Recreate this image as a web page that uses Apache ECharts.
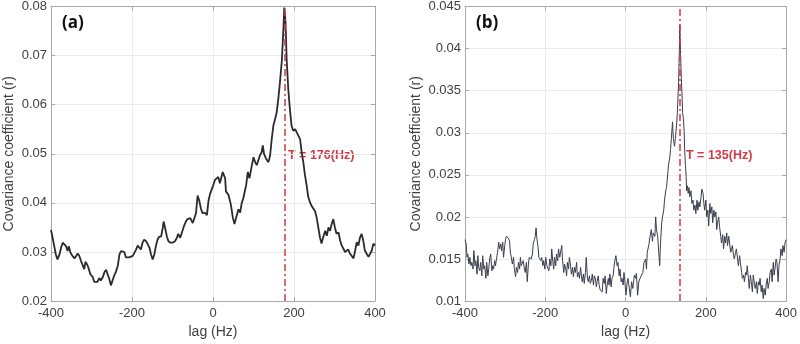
<!DOCTYPE html>
<html>
<head>
<meta charset="utf-8">
<script src="https://cdn.jsdelivr.net/npm/echarts@6/dist/echarts.min.js"></script>
<style>html,body{margin:0;padding:0;background:#fff}#c{width:800px;height:344px}</style>
</head>
<body>
<div id="c"></div>
<script>
// ---- Panel (a) ----
const lagA = [-400,-396,-392,-388,-384,-379,-375,-371,-367,-363,-359,-356,-352,-347,-342,-338,-334,-330,-326,-322,-318,-315,-311,-308,-303,-297,-293,-289,-285,-281,-277,-272,-268,-264,-260,-256,-252,-248,-244,-240,-235,-231,-227,-223,-219,-215,-211,-207,-203,-198,-194,-190,-186,-182,-178,-174,-170,-165,-161,-157,-153,-149,-145,-141,-137,-133,-128,-124,-122,-119,-114,-110,-105,-100,-94,-89,-86,-81,-77,-72,-67,-63,-56,-50,-46,-42,-38,-34,-30,-26,-20,-15,-11,-7,-1,5,13,17,24,30,32,38,44,49,53,57,63,67,71,75,82,86,90,96,100,104,108,112,116,120,123,126,131,137,141,145,149,153,157,161,165,170,174,176,179,182,186,190,194,198,203,207,211,215,219,223,227,231,235,240,244,248,252,256,260,264,268,272,277,281,285,289,293,297,301,305,310,314,318,322,326,330,334,338,342,347,351,355,359,363,367,371,375,379,384,388,392,396,400];
const covA = [0.0345,0.0329,0.0312,0.0295,0.0285,0.0295,0.0309,0.0319,0.0320,0.0312,0.0302,0.0312,0.0299,0.0292,0.0287,0.0292,0.0297,0.0292,0.0282,0.0279,0.0265,0.0280,0.0275,0.0269,0.0255,0.0249,0.0239,0.0237,0.0239,0.0247,0.0242,0.0249,0.0259,0.0264,0.0260,0.0245,0.0232,0.0242,0.0252,0.0259,0.0272,0.0295,0.0302,0.0305,0.0300,0.0289,0.0287,0.0289,0.0285,0.0292,0.0295,0.0305,0.0313,0.0312,0.0305,0.0319,0.0325,0.0322,0.0319,0.0309,0.0295,0.0285,0.0295,0.0312,0.0325,0.0331,0.0332,0.0349,0.0362,0.0352,0.0332,0.0322,0.0319,0.0319,0.0322,0.0329,0.0337,0.0329,0.0339,0.0352,0.0362,0.0367,0.0369,0.0359,0.0355,0.0379,0.0415,0.0405,0.0389,0.0379,0.0380,0.0375,0.0405,0.0419,0.0432,0.0447,0.0453,0.0440,0.0463,0.0450,0.0423,0.0417,0.0397,0.0370,0.0357,0.0370,0.0387,0.0380,0.0400,0.0410,0.0437,0.0463,0.0450,0.0477,0.0493,0.0483,0.0477,0.0487,0.0497,0.0503,0.0517,0.0500,0.0490,0.0483,0.0497,0.0530,0.0557,0.0570,0.0583,0.0610,0.0643,0.0690,0.0757,0.0798,0.0770,0.0690,0.0630,0.0590,0.0557,0.0547,0.0550,0.0543,0.0547,0.0530,0.0503,0.0483,0.0457,0.0437,0.0413,0.0400,0.0393,0.0390,0.0383,0.0370,0.0350,0.0330,0.0317,0.0330,0.0343,0.0333,0.0350,0.0343,0.0357,0.0367,0.0350,0.0337,0.0340,0.0323,0.0313,0.0307,0.0300,0.0300,0.0305,0.0297,0.0293,0.0287,0.0303,0.0320,0.0313,0.0330,0.0337,0.0323,0.0303,0.0297,0.0290,0.0293,0.0303,0.0317,0.0313];
const peakA = 176;
const labelA = 'T = 176(Hz)';

// ---- Panel (b) ----
const lagB = [-400,-397,-395,-393,-390,-388,-385,-383,-380,-378,-375,-373,-370,-368,-366,-363,-361,-358,-356,-353,-351,-348,-346,-343,-341,-338,-336,-333,-331,-329,-326,-324,-321,-319,-316,-314,-311,-309,-306,-304,-301,-299,-297,-294,-292,-289,-287,-284,-282,-279,-277,-274,-272,-269,-267,-264,-262,-260,-257,-255,-252,-250,-247,-245,-242,-240,-237,-235,-232,-230,-227,-225,-223,-221,-218,-216,-214,-211,-209,-206,-204,-201,-199,-196,-194,-191,-189,-186,-184,-181,-179,-177,-174,-172,-169,-167,-164,-162,-159,-157,-154,-152,-149,-147,-145,-142,-140,-137,-135,-132,-130,-127,-125,-122,-120,-117,-115,-112,-110,-108,-105,-103,-100,-98,-95,-93,-90,-88,-85,-83,-80,-78,-75,-73,-71,-68,-66,-63,-61,-58,-56,-53,-51,-48,-46,-43,-41,-39,-36,-34,-31,-29,-26,-24,-21,-19,-16,-14,-11,-9,-6,-4,-2,1,4,6,12,15,18,22,25,27,30,33,36,40,43,46,50,52,54,58,61,64,67,69,73,75,77,80,82,85,87,90,92,95,97,100,102,105,107,110,112,114,117,119,122,124,127,129,132,134,135,137,139,141,142,144,146,147,149,151,152,154,156,158,160,163,165,168,170,173,175,178,180,183,185,188,190,193,195,197,200,202,205,207,210,212,215,217,220,222,225,227,229,232,234,237,239,242,244,247,249,252,254,257,259,262,264,266,269,271,274,276,279,281,284,286,289,291,294,296,299,301,303,306,308,311,313,316,318,321,323,326,328,331,333,335,338,340,343,345,348,350,353,355,358,360,363,365,368,370,372,375,377,380,382,385,387,390,392,395,397,400];
const covB = [0.0173,0.0168,0.0152,0.0156,0.0144,0.0152,0.0142,0.0146,0.0138,0.0160,0.0142,0.0148,0.0132,0.0154,0.0140,0.0136,0.0146,0.0130,0.0154,0.0138,0.0142,0.0127,0.0146,0.0130,0.0138,0.0152,0.0156,0.0136,0.0142,0.0138,0.0148,0.0142,0.0152,0.0158,0.0170,0.0162,0.0168,0.0160,0.0170,0.0152,0.0166,0.0173,0.0177,0.0177,0.0175,0.0171,0.0158,0.0150,0.0144,0.0152,0.0138,0.0129,0.0140,0.0134,0.0146,0.0138,0.0152,0.0142,0.0142,0.0148,0.0138,0.0134,0.0146,0.0123,0.0144,0.0152,0.0154,0.0150,0.0156,0.0168,0.0173,0.0177,0.0187,0.0175,0.0164,0.0152,0.0154,0.0148,0.0152,0.0142,0.0148,0.0138,0.0152,0.0142,0.0144,0.0136,0.0150,0.0142,0.0162,0.0146,0.0138,0.0152,0.0142,0.0156,0.0148,0.0162,0.0152,0.0152,0.0166,0.0148,0.0134,0.0144,0.0138,0.0130,0.0146,0.0138,0.0152,0.0142,0.0132,0.0140,0.0129,0.0140,0.0134,0.0146,0.0129,0.0134,0.0127,0.0140,0.0130,0.0123,0.0132,0.0121,0.0134,0.0152,0.0127,0.0123,0.0130,0.0121,0.0125,0.0132,0.0119,0.0130,0.0127,0.0117,0.0123,0.0130,0.0119,0.0113,0.0115,0.0111,0.0127,0.0121,0.0130,0.0109,0.0119,0.0127,0.0119,0.0132,0.0117,0.0127,0.0130,0.0140,0.0150,0.0154,0.0142,0.0146,0.0130,0.0138,0.0123,0.0127,0.0119,0.0134,0.0125,0.0107,0.0123,0.0127,0.0105,0.0123,0.0115,0.0131,0.0127,0.0133,0.0107,0.0123,0.0127,0.0125,0.0134,0.0146,0.0150,0.0138,0.0158,0.0167,0.0177,0.0185,0.0171,0.0181,0.0177,0.0200,0.0185,0.0177,0.0162,0.0142,0.0169,0.0193,0.0200,0.0208,0.0220,0.0231,0.0235,0.0251,0.0262,0.0270,0.0280,0.0293,0.0313,0.0293,0.0284,0.0293,0.0309,0.0324,0.0359,0.0398,0.0428,0.0394,0.0363,0.0340,0.0324,0.0317,0.0301,0.0282,0.0262,0.0247,0.0231,0.0237,0.0228,0.0235,0.0224,0.0231,0.0216,0.0220,0.0208,0.0214,0.0204,0.0220,0.0208,0.0218,0.0212,0.0224,0.0233,0.0228,0.0216,0.0208,0.0220,0.0200,0.0208,0.0189,0.0216,0.0204,0.0212,0.0193,0.0208,0.0200,0.0206,0.0185,0.0193,0.0200,0.0189,0.0177,0.0169,0.0179,0.0162,0.0177,0.0169,0.0181,0.0166,0.0177,0.0169,0.0158,0.0162,0.0166,0.0154,0.0150,0.0158,0.0162,0.0150,0.0142,0.0154,0.0146,0.0134,0.0127,0.0131,0.0123,0.0134,0.0131,0.0142,0.0127,0.0115,0.0131,0.0123,0.0111,0.0131,0.0121,0.0115,0.0123,0.0109,0.0123,0.0119,0.0127,0.0111,0.0119,0.0103,0.0115,0.0107,0.0119,0.0127,0.0115,0.0123,0.0134,0.0138,0.0123,0.0146,0.0131,0.0138,0.0150,0.0146,0.0123,0.0142,0.0150,0.0162,0.0154,0.0166,0.0158,0.0169,0.0173];
const peakB = 135;
const labelB = 'T = 135(Hz)';

const xTicks = {min: -400, max: 400, interval: 200};
const yRangeA = {min: 0.02, max: 0.08, interval: 0.01};
const yRangeB = {min: 0.01, max: 0.045, interval: 0.005};
const xName = 'lag (Hz)';
const yName = 'Covariance coefficient (r)';

const FONT = '"Liberation Sans", Arial, sans-serif';
const AXC = '#a8a8a8';
const TXT = '#404040';
const RED = '#d23a44';

function xMain(grid) {
  return {type:'value', gridIndex:grid, ...xTicks, name:xName, nameLocation:'middle', nameGap:22,
    nameTextStyle:{fontFamily:FONT, fontSize:14, color:TXT},
    axisLine:{show:true, onZero:false, lineStyle:{color:AXC}}, axisTick:{show:true, inside:true, length:4, lineStyle:{color:AXC}},
    axisLabel:{fontFamily:FONT, fontSize:13, color:TXT, margin:6},
    splitLine:{show:true, lineStyle:{color:'#ebebeb'}}};
}
function xTop(grid) {
  return {type:'value', gridIndex:grid, position:'top', ...xTicks,
    axisLine:{show:true, onZero:false, lineStyle:{color:AXC}}, axisTick:{show:true, inside:true, length:4, lineStyle:{color:AXC}},
    axisLabel:{show:false}, splitLine:{show:false}};
}
function yMain(grid, r, gap) {
  return {type:'value', gridIndex:grid, ...r, name:yName, nameLocation:'middle', nameGap:gap,
    nameTextStyle:{fontFamily:FONT, fontSize:14, color:TXT},
    axisLine:{show:true, onZero:false, lineStyle:{color:AXC}}, axisTick:{show:true, inside:true, length:4, lineStyle:{color:AXC}},
    axisLabel:{fontFamily:FONT, fontSize:13, color:TXT, margin:4, formatter:v=>String(parseFloat(v.toFixed(4)))},
    splitLine:{show:true, lineStyle:{color:'#ebebeb'}}};
}
function yRight(grid, r) {
  return {type:'value', gridIndex:grid, position:'right', ...r,
    axisLine:{show:true, onZero:false, lineStyle:{color:AXC}}, axisTick:{show:true, inside:true, length:4, lineStyle:{color:AXC}},
    axisLabel:{show:false}, splitLine:{show:false}};
}
function mark(x) {
  return {symbol:'none', silent:true, animation:false, label:{show:false},
    lineStyle:{color:RED, width:1.5, type:[7,3,2,3]}, data:[{xAxis:x}]};
}

const chart = echarts.init(document.getElementById('c'), null, {renderer:'canvas'});
chart.setOption({
  animation:false,
  grid:[{left:51, top:5, width:324, height:301}, {left:465, top:5, width:324, height:301}],
  xAxis:[xMain(0), xTop(0), xMain(1), xTop(1)],
  yAxis:[yMain(0, yRangeA, 35), yRight(0, yRangeA), yMain(1, yRangeB, 42), yRight(1, yRangeB)],
  series:[
    {type:'line', xAxisIndex:0, yAxisIndex:0, showSymbol:false, symbol:'none', smooth:false,
     lineStyle:{color:'#2b2b2e', width:1.8}, data:lagA.map((l,i)=>[l,covA[i]]), markLine:mark(peakA)},
    {type:'line', xAxisIndex:2, yAxisIndex:2, showSymbol:false, symbol:'none', smooth:false,
     lineStyle:{color:'#3a3d4c', width:1}, data:lagB.map((l,i)=>[l,covB[i]]), markLine:mark(peakB)}
  ],
  graphic:[
    {type:'text', left:62, top:15, style:{text:'(a)', font:'bold 17px "Open Sans", sans-serif', fill:'#111'}},
    {type:'text', left:476, top:15, style:{text:'(b)', font:'bold 17px "Open Sans", sans-serif', fill:'#111'}},
    {type:'text', left:288, top:149, style:{text:labelA, font:'bold 12.5px "Liberation Sans", Arial, sans-serif', fill:RED}},
    {type:'text', left:686, top:149, style:{text:labelB, font:'bold 12.5px "Liberation Sans", Arial, sans-serif', fill:RED}}
  ]
});
</script>
</body>
</html>
